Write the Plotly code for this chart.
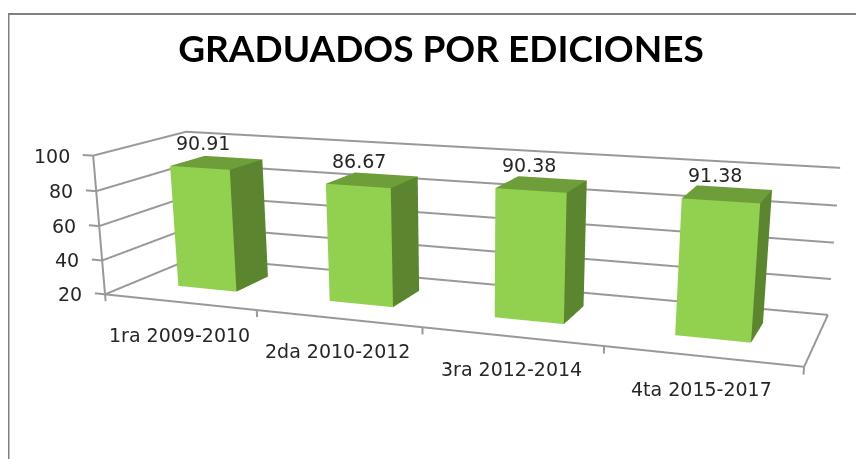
import plotly.graph_objects as go
import numpy as np

categories = ["1ra 2009-2010", "2da 2010-2012", "3ra 2012-2014", "4ta 2015-2017"]
values = [90.91, 86.67, 90.38, 91.38]
value_labels = ["90.91", "86.67", "90.38", "91.38"]
z_ticks = [20, 40, 60, 80, 100]
title = "GRADUADOS POR EDICIONES"

PAGE = 8  # page margin round the figure
W, H = 864 - PAGE, 459 - PAGE
n = len(categories)
z0, z1 = z_ticks[0], z_ticks[-1]

# Perspective of the tilted chart box: (category pos, depth, value) -> window pixel
calib = [(0, 0, 20, 105, 294), (0, 0, 40, 102, 260), (0, 0, 60, 100, 226), (0, 0, 80, 96, 191), (0, 0, 100, 93, 155),
         (0, 1, 100, 186, 132), (0, 1, 20, 194, 258),
         (4, 1, 100, 840, 168), (4, 1, 80, 837, 206), (4, 1, 60, 834, 243), (4, 1, 40, 831, 279), (4, 1, 20, 828, 313),
         (4, 0, 20, 804, 367), (1, 0, 20, 257, 311), (2, 0, 20, 422, 327), (3, 0, 20, 604, 347)]
F = (H / 2) / np.tan(np.pi / 8)
DIST = 4.0
rows, rhs = [], []
for x, y, z, u, v in calib:
    b = [x, y, (z - z0) / (z1 - z0), 1]
    a = (u - PAGE - W / 2) / F
    c = (H / 2 - (v - PAGE)) / F
    rows.append(b + [0, 0, 0, 0] + [-a * t for t in b[:3]]); rhs.append(a)
    rows.append([0, 0, 0, 0] + b + [-c * t for t in b[:3]]); rhs.append(c)
sol = np.linalg.lstsq(np.array(rows, float), np.array(rhs, float), rcond=None)[0]
R1, R2, R3 = sol[:4], sol[4:8], np.r_[sol[8:], 1.0]
centre = np.array([n / 2, 0.5, 0.5, 1])
S = DIST / (R3 @ centre)

def to_scene(x, y, z):
    b = np.array([x, y, (z - z0) / (z1 - z0), 1.0])
    return float(S * R1 @ b), float(S * R3 @ b - DIST), float(S * R2 @ b)

HW, Y0, Y1 = 0.197, 0.32, 0.71
DX = -0.005
FRONT, TOP, SIDE = "#92D14F", "#6E9E3A", "#5C8530"
vx, vy, vz, fi, fj, fk, fc = [], [], [], [], [], [], []
for i, v in enumerate(values):
    s = len(vx)
    c = i + 0.5 + DX
    for z in (z0, v):
        for yy in (Y0, Y1):
            for xx in (c - HW, c + HW):
                p = to_scene(xx, yy, z)
                vx.append(p[0]); vy.append(p[1]); vz.append(p[2])
    quads = [((0, 1, 5, 4), FRONT), ((1, 3, 7, 5), SIDE), ((4, 5, 7, 6), TOP)]
    for q, col in quads:
        for a, b, d in ((q[0], q[1], q[2]), (q[0], q[2], q[3])):
            fi.append(s + a); fj.append(s + b); fk.append(s + d); fc.append(col)

lx, ly, lz = [], [], []
def seg(*pts):
    for p in pts:
        q = to_scene(*p)
        lx.append(q[0]); ly.append(q[1]); lz.append(q[2])
    lx.append(None); ly.append(None); lz.append(None)
for t in z_ticks:
    seg((-0.07, 0, t), (0, 0, t), (0, 1, t), (n, 1, t))
seg((0, 0, z0), (0, 0, z1))
seg((0, 0, z0), (n, 0, z0), (n, 1, z0))
for i in range(n + 1):
    seg((i, 0, z0), (i, 0, z0 - 4))

fig = go.Figure()
fig.add_trace(go.Scatter3d(x=lx, y=ly, z=lz, mode="lines", line=dict(color="#999999", width=4), hoverinfo="skip", showlegend=False))
fig.add_trace(go.Mesh3d(x=vx, y=vy, z=vz, i=fi, j=fj, k=fk, facecolor=fc, flatshading=True,
                        lighting=dict(ambient=1, diffuse=0, specular=0, fresnel=0, roughness=1),
                        hoverinfo="skip", showscale=False))

font = dict(family="DejaVu Sans", size=19, color="#262626")
anns = []
def ann(p, **kw):
    q = to_scene(*p)
    anns.append(dict(x=q[0], y=q[1], z=q[2], showarrow=False, **kw))
for t in z_ticks:
    ann((0, 0, t), text=str(t), xanchor="right", xshift=-21, font=font)
for i, v in enumerate(values):
    ann((i + 0.5, 0.5, v), text=value_labels[i], xshift=-13, yshift=20, font=font)
    ann((i + 0.5, 0, z0), text=categories[i], yshift=-33, font=font)

RX, RYZ = 8.0, 4.0
ax = lambda r: dict(visible=False, range=[-r / 2, r / 2], autorange=False)
fig.update_layout(
    width=W, height=H, margin=dict(l=0, r=0, t=0, b=0), paper_bgcolor="white",
    title=dict(text="<b>" + title + "</b>", x=433 / W, xanchor="center", y=1 - 41 / H, yanchor="middle",
               font=dict(family="Lato", size=37, color="black")),
    scene=dict(domain=dict(x=[0, 1], y=[0, 1]), xaxis=ax(RX), yaxis=ax(RYZ), zaxis=ax(RYZ),
               aspectmode="manual", aspectratio=dict(x=RX, y=RYZ, z=RYZ),
               camera=dict(eye=dict(x=0, y=-DIST, z=0), center=dict(x=0, y=0, z=0), up=dict(x=0, y=0, z=1)),
               annotations=anns),
    shapes=[dict(type="line", xref="paper", yref="paper", x0=0.5 / W, x1=0.5 / W, y0=0, y1=1 - 6 / H, line=dict(color="#808080", width=2)),
            dict(type="line", xref="paper", yref="paper", x0=0, x1=1, y0=1 - 6 / H, y1=1 - 6 / H, line=dict(color="#808080", width=2))],
)
fig.write_html("out.html")
